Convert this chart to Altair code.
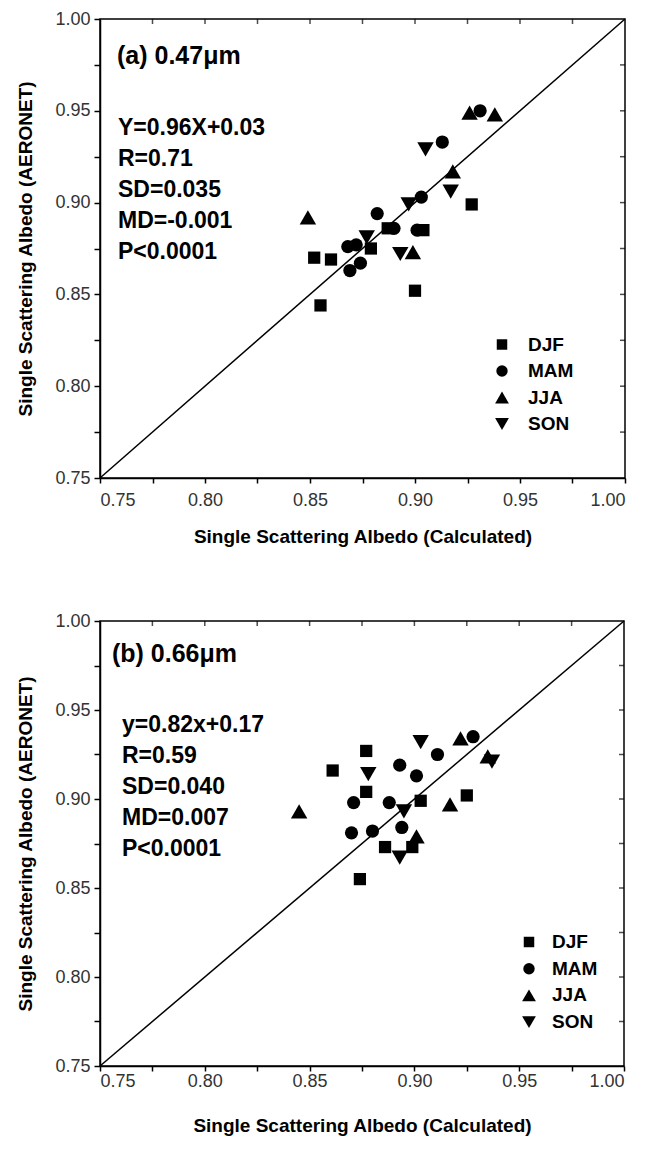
import altair as alt
import pandas as pd

FONT = "Liberation Sans"
SEASONS = ["DJF", "MAM", "JJA", "SON"]
SHAPES = ["square", "circle", "triangle-up", "triangle-down"]
SIZES = [150, 175, 270, 270]
LEGEND_SIZES = [110, 130, 190, 190]
TICKS = [0.75, 0.775, 0.80, 0.825, 0.85, 0.875, 0.90, 0.925, 0.95, 0.975, 1.00]
INNER_TICKS = [0.775, 0.80, 0.825, 0.85, 0.875, 0.90, 0.925, 0.95, 0.975]
DIAG = [0.75, 1.00]

# Panel (a) 0.47 um
A_DJF_X = [0.927, 0.887, 0.904, 0.879, 0.852, 0.860, 0.900, 0.855]
A_DJF_Y = [0.899, 0.886, 0.885, 0.875, 0.870, 0.869, 0.852, 0.844]
A_MAM_X = [0.931, 0.913, 0.903, 0.882, 0.890, 0.901, 0.868, 0.872, 0.874, 0.869]
A_MAM_Y = [0.950, 0.933, 0.903, 0.894, 0.886, 0.885, 0.876, 0.877, 0.867, 0.863]
A_JJA_X = [0.926, 0.938, 0.918, 0.849, 0.899]
A_JJA_Y = [0.949, 0.948, 0.917, 0.892, 0.873]
A_SON_X = [0.905, 0.917, 0.897, 0.877, 0.893]
A_SON_Y = [0.929, 0.906, 0.899, 0.881, 0.872]
A_TITLE = "(a) 0.47μm"
A_STATS = ["Y=0.96X+0.03", "R=0.71", "SD=0.035", "MD=-0.001", "P<0.0001"]

# Panel (b) 0.66 um
B_DJF_X = [0.877, 0.861, 0.877, 0.903, 0.925, 0.886, 0.899, 0.874]
B_DJF_Y = [0.927, 0.916, 0.904, 0.899, 0.902, 0.873, 0.873, 0.855]
B_MAM_X = [0.928, 0.911, 0.893, 0.901, 0.871, 0.888, 0.870, 0.880, 0.894]
B_MAM_Y = [0.935, 0.925, 0.919, 0.913, 0.898, 0.898, 0.881, 0.882, 0.884]
B_JJA_X = [0.922, 0.935, 0.845, 0.917, 0.901]
B_JJA_Y = [0.934, 0.924, 0.893, 0.897, 0.879]
B_SON_X = [0.903, 0.878, 0.937, 0.895, 0.893]
B_SON_Y = [0.932, 0.914, 0.921, 0.893, 0.867]
B_TITLE = "(b) 0.66μm"
B_STATS = ["y=0.82x+0.17", "R=0.59", "SD=0.040", "MD=0.007", "P<0.0001"]

LABEL_EXPR = "round(datum.value*1000) % 50 == 0 ? format(datum.value, '.2f') : ''"


def panel(series, title, stats, w, h, xlabpad, xtitlepad, leg, title_xy, stats_xy):
    scale = alt.Scale(domain=[0.75, 1.0], nice=False, zero=False)
    X = alt.X("x:Q", scale=scale,
              axis=alt.Axis(values=TICKS, labelExpr=LABEL_EXPR, grid=False,
                            title="Single Scattering Albedo (Calculated)",
                            tickSize=5, labelPadding=xlabpad, titlePadding=xtitlepad))
    Y = alt.Y("y:Q", scale=scale,
              axis=alt.Axis(values=TICKS, labelExpr=LABEL_EXPR, grid=False,
                            title="Single Scattering Albedo (AERONET)",
                            tickSize=6, labelPadding=4, titlePadding=19))
    layers = []
    for (season, xs, ys), shp, sz in zip(series, SHAPES, SIZES):
        sdf = pd.DataFrame({"x": xs, "y": ys, "season": season})
        layers.append(alt.Chart(sdf).mark_point(
            filled=True, opacity=1, color="black", shape=shp, size=sz).encode(x=X, y=Y))
    diag = alt.Chart(pd.DataFrame({"x": DIAG, "y": DIAG})).mark_line(
        color="black", strokeWidth=1.5).encode(x=X, y=Y)
    top_ticks = alt.Chart(pd.DataFrame({"x": INNER_TICKS})).mark_tick(
        orient="vertical", color="black", size=5, thickness=1.5).encode(
        x=X, y=alt.value(2.5))
    right_ticks = alt.Chart(pd.DataFrame({"y": INNER_TICKS})).mark_tick(
        orient="horizontal", color="black", size=5, thickness=1.5).encode(
        y=Y, x=alt.value(w - 2.5))
    ttl = alt.Chart(pd.DataFrame({"t": [title]})).mark_text(
        align="left", baseline="middle", font=FONT, fontSize=25, fontWeight="bold",
        color="black").encode(x=alt.value(title_xy[0]), y=alt.value(title_xy[1]), text="t:N")
    st = alt.Chart(pd.DataFrame({"t": ["\n".join(stats)]})).mark_text(
        align="left", baseline="middle", font=FONT, fontSize=23, fontWeight="bold",
        color="black", lineBreak="\n", lineHeight=31).encode(
        x=alt.value(stats_xy[0]), y=alt.value(stats_xy[1]), text="t:N")

    # legend drawn as symbol + label rows
    sx, tx, y0, dy = leg
    for i, (s, shp, sz) in enumerate(zip(SEASONS, SHAPES, LEGEND_SIZES)):
        ldf = pd.DataFrame({"t": [s]})
        layers.append(alt.Chart(ldf).mark_point(
            filled=True, opacity=1, color="black", shape=shp, size=sz).encode(
            x=alt.value(sx), y=alt.value(y0 + i * dy)))
        layers.append(alt.Chart(ldf).mark_text(
            align="left", baseline="middle", font=FONT, fontSize=19, fontWeight="bold",
            color="black").encode(x=alt.value(tx), y=alt.value(y0 + i * dy), text="t:N"))

    return alt.layer(diag, top_ticks, right_ticks, ttl, st, *layers).properties(
        width=w, height=h)


A_SERIES = [("DJF", A_DJF_X, A_DJF_Y), ("MAM", A_MAM_X, A_MAM_Y),
            ("JJA", A_JJA_X, A_JJA_Y), ("SON", A_SON_X, A_SON_Y)]
B_SERIES = [("DJF", B_DJF_X, B_DJF_Y), ("MAM", B_MAM_X, B_MAM_Y),
            ("JJA", B_JJA_X, B_JJA_Y), ("SON", B_SON_X, B_SON_Y)]

pa = panel(A_SERIES, A_TITLE, A_STATS, 525, 459, 8, 18, (402, 428, 325.5, 26.5),
           (17, 37), (18, 109))
pb = panel(B_SERIES, B_TITLE, B_STATS, 524, 445, 1, 26, (429, 452, 321, 26.7),
           (12, 33), (22, 104))

chart = alt.vconcat(pa, pb, spacing=64).properties(
    padding={"left": 16, "top": 9, "right": 5, "bottom": 5}
).configure_view(stroke="black", strokeWidth=1.5).configure_axis(
    labelFont=FONT, labelFontSize=18, labelColor="#333333",
    titleFont=FONT, titleFontSize=19, titleFontWeight="bold", titleColor="black",
    domainColor="black", domainWidth=1.5, tickColor="black", tickWidth=1.5,
)

chart.save("out.html", embed_options={"renderer": "svg", "actions": False})
